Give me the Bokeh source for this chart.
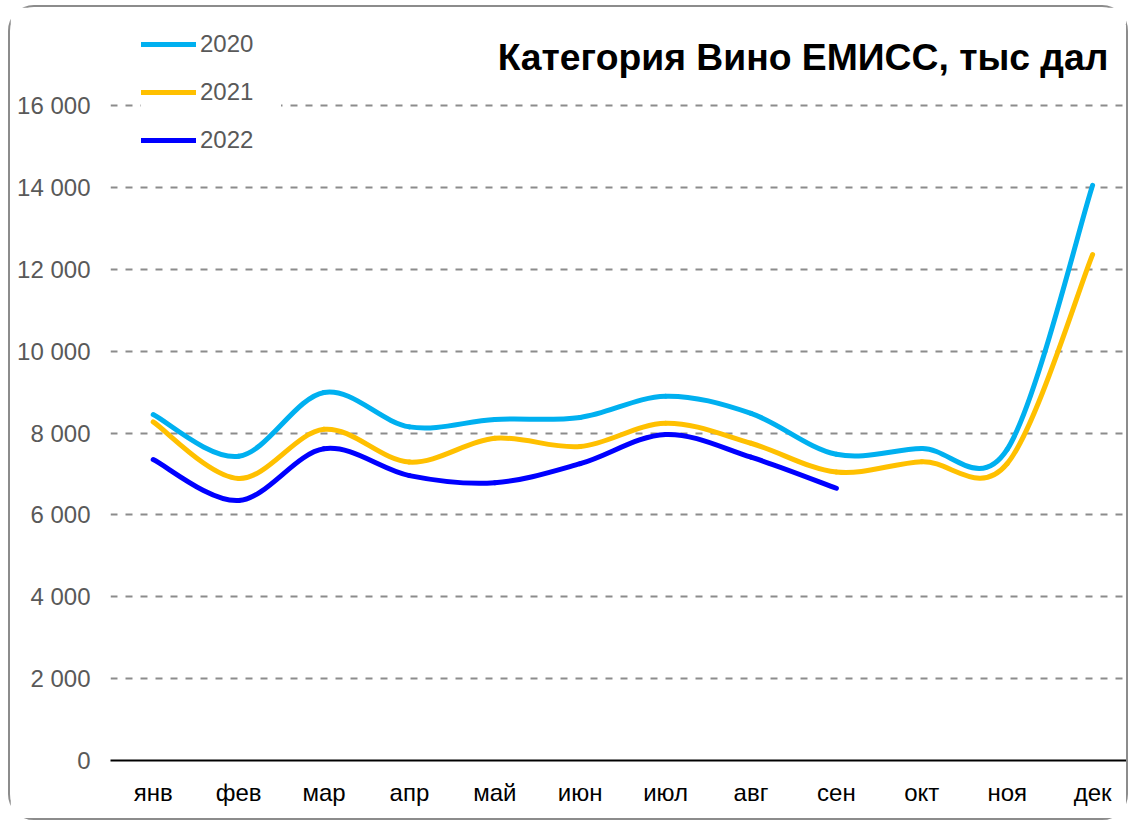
from bokeh.plotting import figure
from bokeh.models import FixedTicker, Label, Legend, LegendItem, Range1d
from bokeh.embed import file_html
from bokeh.resources import INLINE

months = ["янв", "фев", "мар", "апр", "май", "июн", "июл", "авг", "сен", "окт", "ноя", "дек"]
v2020 = [8450, 7430, 8990, 8150, 8330, 8380, 8900, 8480, 7480, 7620, 7600, 14050]
v2021 = [8270, 6890, 8090, 7290, 7870, 7670, 8240, 7750, 7045, 7300, 7250, 12360]
v2022 = [7350, 6350, 7615, 6960, 6785, 7250, 7965, 7410, 6650]
y_ticks = [0, 2000, 4000, 6000, 8000, 10000, 12000, 14000, 16000]
series = [("2020", v2020, "#00B0F0"), ("2021", v2021, "#FFC000"), ("2022", v2022, "#0000FF")]
title_text = "Категория Вино ЕМИСС, тыс дал"

FONT = "Liberation Sans"

p = figure(width=1120, height=815, x_range=Range1d(-0.5, 11.397), y_range=Range1d(0, 17979),
           output_backend="svg", toolbar_location=None,
           min_border_left=100, min_border_right=4, min_border_top=17, min_border_bottom=62)
p.styles = {"border": "2px solid #8c8c8c", "border-radius": "26px",
            "margin-left": "8px", "margin-top": "5px"}
p.outline_line_color = None
p.background_fill_color = "white"
p.border_fill_color = "white"

# axes
p.xaxis.ticker = FixedTicker(ticks=list(range(len(months))))
p.xaxis.major_label_overrides = {i: m for i, m in enumerate(months)}
p.xaxis.axis_line_color = "black"
p.xaxis.axis_line_width = 2
p.xaxis.major_tick_line_color = None
p.xaxis.minor_tick_line_color = None
p.xaxis.major_label_standoff = 12
p.xaxis.major_label_text_font = FONT
p.xaxis.major_label_text_font_size = "24px"
p.xaxis.major_label_text_color = "black"

p.yaxis.ticker = FixedTicker(ticks=y_ticks)
p.yaxis.major_label_overrides = {t: f"{t:,}".replace(",", " ") for t in y_ticks}
p.yaxis.axis_line_color = None
p.yaxis.major_tick_line_color = None
p.yaxis.minor_tick_line_color = None
p.yaxis.major_label_standoff = 14
p.yaxis.major_label_text_font = FONT
p.yaxis.major_label_text_font_size = "24px"
p.yaxis.major_label_text_color = "#595959"

p.xgrid.visible = False
p.ygrid.grid_line_color = "#8c8c8c"
p.ygrid.grid_line_width = 2
p.ygrid.grid_line_dash = "7 8"

# smoothed lines (Excel-like, Catmull-Rom as cubic Bezier segments)
items = []
for name, vals, color in series:
    n = len(vals)
    xs = list(range(n))
    x0, y0, x1, y1, cx0, cy0, cx1, cy1 = [], [], [], [], [], [], [], []
    for i in range(n - 1):
        pa = i - 1 if i > 0 else i
        pd = i + 2 if i + 2 < n else i + 1
        x0.append(xs[i]); y0.append(vals[i])
        x1.append(xs[i + 1]); y1.append(vals[i + 1])
        cx0.append(xs[i] + (xs[i + 1] - xs[pa]) / 6.0)
        cy0.append(vals[i] + (vals[i + 1] - vals[pa]) / 6.0)
        cx1.append(xs[i + 1] - (xs[pd] - xs[i]) / 6.0)
        cy1.append(vals[i + 1] - (vals[pd] - vals[i]) / 6.0)
    r = p.bezier(x0=x0, y0=y0, x1=x1, y1=y1, cx0=cx0, cy0=cy0, cx1=cx1, cy1=cy1,
                 line_color=color, line_width=5, line_cap="round")
    items.append(LegendItem(label=name, renderers=[r]))

legend = Legend(items=items, location=(31, 606), orientation="vertical",
                glyph_width=55, glyph_height=24, label_height=24, label_width=81,
                spacing=20, padding=20, margin=0, label_standoff=4,
                border_line_color=None, background_fill_color="white", background_fill_alpha=1,
                label_text_font=FONT, label_text_font_size="24px", label_text_color="#595959")
p.add_layout(legend)

p.add_layout(Label(x=11.186, y=17173, text=title_text, text_align="right", text_baseline="middle",
                   text_font=FONT, text_font_size="37.3px", text_font_style="bold", text_color="black"))

open("out.html", "w").write(file_html(p, INLINE))
